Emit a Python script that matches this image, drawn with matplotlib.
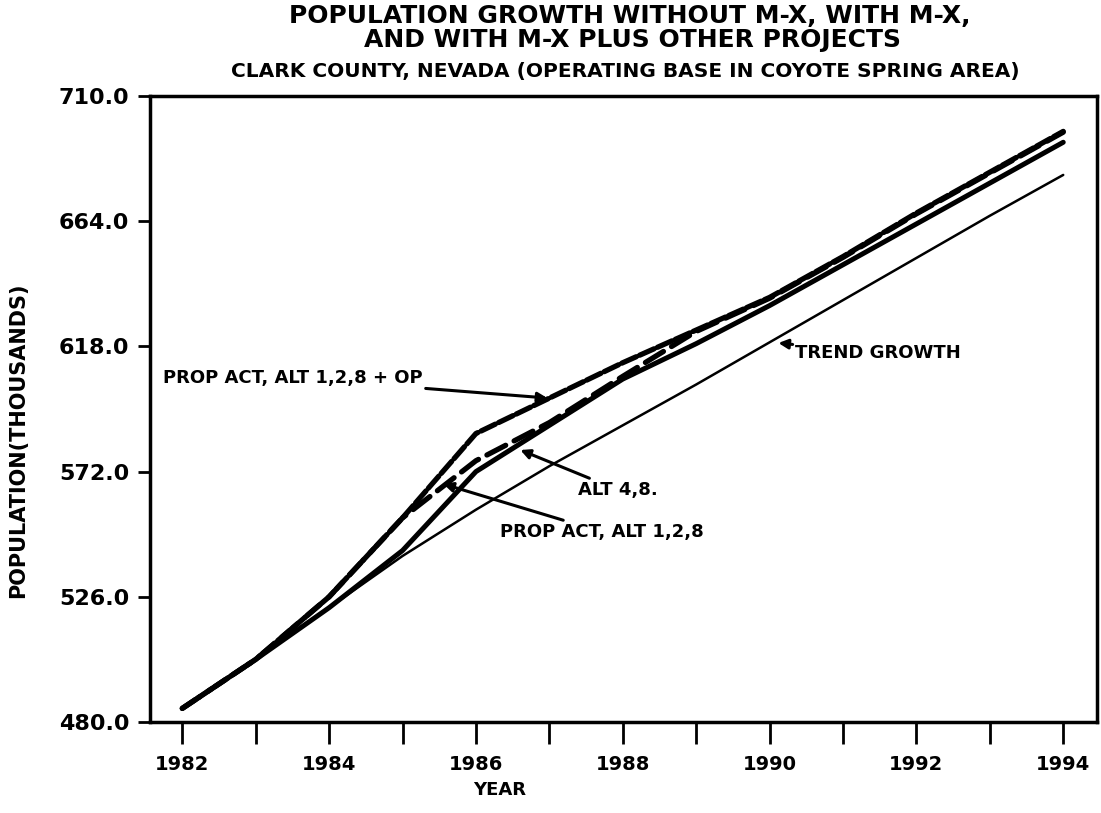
import matplotlib
matplotlib.use("Agg")
import matplotlib.pyplot as plt
from matplotlib.ticker import FixedLocator

# ---- data (population, thousands) ----
years = [1982, 1983, 1984, 1985, 1986, 1987, 1988, 1989, 1990, 1991, 1992, 1993, 1994]
trend_growth = [485, 503, 522, 541, 558, 574, 589, 604, 619.5, 635, 650.5, 666, 681]
alt_4_8 = [485, 503, 522, 543, 572, 589, 606, 619, 633, 648, 663, 678, 693]
prop_act = [485, 503, 526, 555, 576, 590, 607, 623.5, 635.7, 650.7, 666.7, 681.7, 696.7]
prop_act_op = [485, 503, 526, 555, 586, 599, 612, 624, 636, 651, 667, 682, 697]

y_ticks = [480.0, 526.0, 572.0, 618.0, 664.0, 710.0]
x_major = [1982, 1984, 1986, 1988, 1990, 1992, 1994]
x_minor = [1983, 1985, 1987, 1989, 1991, 1993]

title1 = "POPULATION GROWTH WITHOUT M-X, WITH M-X,"
title2 = "AND WITH M-X PLUS OTHER PROJECTS"
subtitle = "CLARK COUNTY, NEVADA (OPERATING BASE IN COYOTE SPRING AREA)"

plt.rcParams['font.family'] = ['DejaVu Sans']
plt.rcParams['font.weight'] = 'bold'

fig = plt.figure(figsize=(11.01, 8.13), dpi=100)
ax = fig.add_axes([150/1101, 1-722/813, (1097-150)/1101, (722-96)/813])

ax.plot(years, trend_growth, color='black', lw=1.8, solid_capstyle='round')
ax.plot(years, alt_4_8, color='black', lw=3.6, solid_capstyle='round')
ax.plot(years, prop_act, color='black', lw=3.8, dashes=(4.0, 1.8), dash_capstyle='round')
ax.plot(years, prop_act_op, color='black', lw=3.8, dashes=(3.0, 0.7), dash_capstyle='round')

ax.set_xlim(1981.56, 1994.46)
ax.set_ylim(480, 710)

ax.xaxis.set_major_locator(FixedLocator(x_major))
ax.xaxis.set_minor_locator(FixedLocator(x_minor))
ax.set_xticklabels([str(v) for v in x_major])
ax.yaxis.set_major_locator(FixedLocator(y_ticks))
ax.set_yticklabels([f"{v:.1f}" for v in y_ticks])

ax.tick_params(axis='x', which='both', direction='out', length=16, width=2, pad=8,
               labelsize=14)
ax.tick_params(axis='y', which='major', direction='out', length=9, width=2, pad=6,
               labelsize=16)
for lab in ax.get_xticklabels() + ax.get_yticklabels():
    lab.set_fontweight('bold')
for sp in ax.spines.values():
    sp.set_linewidth(2.5)

fig.text(18/1101, 1-440/813, "POPULATION(THOUSANDS)", rotation=90, ha='center', va='center',
         fontsize=15, fontweight='bold')
fig.text(500/1101, 1-790/813, "YEAR", ha='center', va='center', fontsize=13, fontweight='bold')

fig.text(630/1101, 1-16/813, title1, ha='center', va='center', fontsize=18, fontweight='bold')
fig.text(632/1101, 1-40/813, title2, ha='center', va='center', fontsize=18, fontweight='bold')
fig.text(625/1101, 1-71/813, subtitle, ha='center', va='center', fontsize=14.5, fontweight='bold')

def px2d(px, py):
    return (1982 + (px - 182) / 73.4, 480 + (722 - py) * 0.3674)

arrow = dict(arrowstyle='-|>', color='black', lw=2.2, mutation_scale=14,
             shrinkA=0, shrinkB=0)
ann_fs = 13
ax.annotate("PROP ACT, ALT 1,2,8 + OP", xy=px2d(547, 398), xytext=px2d(163, 378),
            ha='left', va='center', fontsize=ann_fs, fontweight='bold', arrowprops=arrow)
ax.annotate("ALT 4,8.", xy=px2d(520, 450), xytext=px2d(578, 490),
            ha='left', va='center', fontsize=ann_fs, fontweight='bold', arrowprops=arrow)
ax.annotate("PROP ACT, ALT 1,2,8", xy=px2d(443, 484), xytext=px2d(500, 532),
            ha='left', va='center', fontsize=ann_fs, fontweight='bold', arrowprops=arrow)
ax.annotate("TREND GROWTH", xy=px2d(778, 343), xytext=px2d(795, 353),
            ha='left', va='center', fontsize=ann_fs, fontweight='bold', arrowprops=arrow)

fig.savefig("out.png", dpi=100)
